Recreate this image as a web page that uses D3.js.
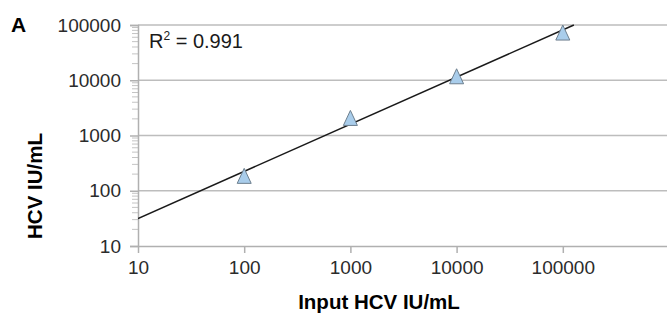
<!DOCTYPE html>
<html>
<head>
<meta charset="utf-8">
<script src="https://cdn.jsdelivr.net/npm/d3@7"></script>
<style>
  body { margin: 0; background: #fff; }
  text { font-family: "Liberation Sans", Arial, sans-serif; }
</style>
</head>
<body>
<div id="chart"></div>
<script>
// measured points (input vs detected, IU/mL)
var inputValues = [100, 1000, 10000, 100000];
var measuredValues = [186, 2080, 11800, 73000];
var xTicks = [10, 100, 1000, 10000, 100000];
var yTicks = [10, 100, 1000, 10000, 100000];
var r2Label = "0.991";

var width = 667, height = 313;
var padL = 138, padT = 25, padR = 669, padB = 246;

var svg = d3.select("#chart").append("svg")
  .attr("width", width).attr("height", height);

var x = d3.scaleLog().domain([10, 1000000]).range([padL, padR]);
var y = d3.scaleLog().domain([10, 100000]).range([padB, padT]);

// gridlines
svg.append("g").selectAll("line").data(yTicks.slice(1)).enter().append("line")
  .attr("x1", padL).attr("x2", width)
  .attr("y1", d => y(d)).attr("y2", d => y(d))
  .attr("stroke", "#bdbdbd").attr("stroke-width", 1.3);

// minor ticks on y axis
var minor = [];
yTicks.slice(0, -1).forEach(function (d) {
  for (var k = 2; k < 10; k++) minor.push(d * k);
});
svg.append("g").selectAll("line").data(minor).enter().append("line")
  .attr("x1", padL - 6).attr("x2", padL)
  .attr("y1", d => y(d)).attr("y2", d => y(d))
  .attr("stroke", "#c4c4c4").attr("stroke-width", 1);

// y axis
var yAxis = svg.append("g").attr("transform", "translate(" + padL + ",0)")
  .call(d3.axisLeft(y).tickValues(yTicks).tickFormat(d3.format("d")).tickSize(8).tickPadding(9));
yAxis.select(".domain").attr("stroke", "#b0b0b0").attr("stroke-width", 1.5);
yAxis.selectAll(".tick line").attr("stroke", "#b0b0b0").attr("stroke-width", 1.5);
yAxis.selectAll("text").attr("font-size", 19).attr("fill", "#2b2b2b")
  .attr("font-family", "Liberation Sans, Arial, sans-serif");

// x axis
var xAxis = svg.append("g").attr("transform", "translate(0," + padB + ")")
  .call(d3.axisBottom(x).tickValues(xTicks).tickFormat(d3.format("d")).tickSize(7).tickPadding(8));
xAxis.select(".domain").attr("d", "M" + padL + ",0.5H" + width)
  .attr("stroke", "#b0b0b0").attr("stroke-width", 1.5);
xAxis.selectAll(".tick line").attr("stroke", "#b0b0b0").attr("stroke-width", 1.5);
xAxis.selectAll("text").attr("font-size", 19).attr("fill", "#2b2b2b")
  .attr("font-family", "Liberation Sans, Arial, sans-serif");

// regression in log-log space
var lx = inputValues.map(Math.log10), ly = measuredValues.map(Math.log10);
var mx = d3.mean(lx), my = d3.mean(ly);
var slope = d3.sum(lx, (d, i) => (d - mx) * (ly[i] - my)) / d3.sum(lx, d => (d - mx) * (d - mx));
var icpt = my - slope * mx;
var fitAt = v => Math.pow(10, icpt + slope * Math.log10(v));
var xEnd = Math.pow(10, (5 - icpt) / slope);

svg.append("clipPath").attr("id", "plotclip").append("rect")
  .attr("x", padL).attr("y", padT - 1).attr("width", padR - padL).attr("height", padB - padT + 1);

svg.append("line")
  .attr("clip-path", "url(#plotclip)")
  .attr("x1", x(10)).attr("y1", y(fitAt(10)))
  .attr("x2", x(xEnd)).attr("y2", y(fitAt(xEnd)))
  .attr("stroke", "#1a1a1a").attr("stroke-width", 1.5);

// triangle markers, centred on their box like the spreadsheet markers
var tri = "M0,-7.5L7,7.5L-7,7.5Z";
svg.append("g").selectAll("path").data(inputValues).enter().append("path")
  .attr("d", tri)
  .attr("transform", (d, i) => "translate(" + x(d) + "," + y(measuredValues[i]) + ")")
  .attr("fill", "#a9cdeb").attr("stroke", "#6d7f8e").attr("stroke-width", 1);

// R² label
var r2 = svg.append("text").attr("x", 149).attr("y", 48)
  .attr("font-size", 20).attr("fill", "#1a1a1a");
r2.append("tspan").text("R");
r2.append("tspan").text("2").attr("font-size", 12).attr("dy", -8);
r2.append("tspan").text(" = " + r2Label).attr("dy", 8);

// panel letter
svg.append("text").attr("x", 11).attr("y", 32)
  .attr("font-size", 21).attr("font-weight", "bold").text("A");

// axis titles
svg.append("text")
  .attr("transform", "translate(42,186) rotate(-90)")
  .attr("text-anchor", "middle").attr("font-size", 20.5).attr("font-weight", "bold")
  .text("HCV IU/mL");

svg.append("text").attr("x", 379).attr("y", 309)
  .attr("text-anchor", "middle").attr("font-size", 20.5).attr("font-weight", "bold")
  .text("Input HCV IU/mL");
</script>
</body>
</html>
